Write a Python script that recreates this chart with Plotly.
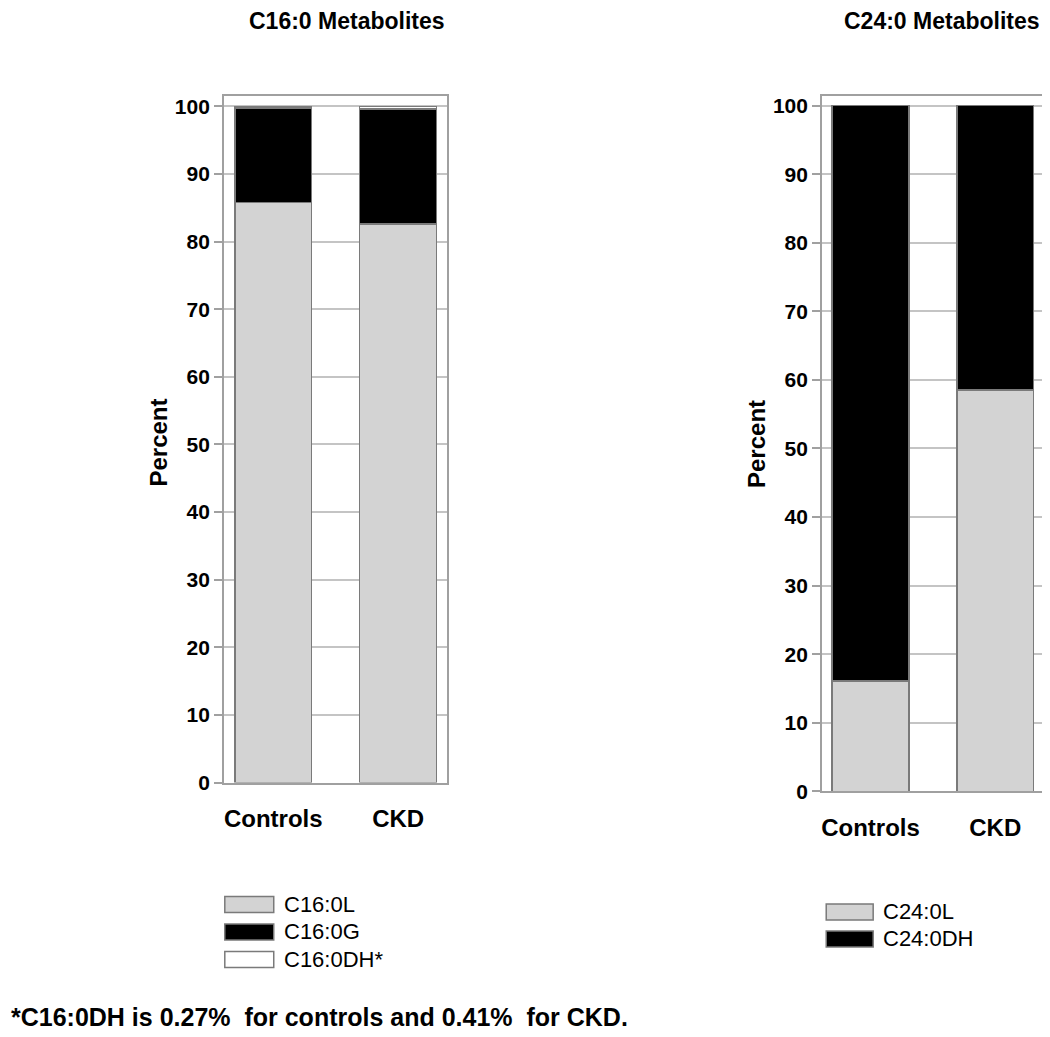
import plotly.graph_objects as go

# ---------------- data ----------------
groups = ["Controls", "CKD"]

c16_names = ["C16:0L", "C16:0G", "C16:0DH*"]
c16_L = [85.8, 82.6]
c16_DH = [0.27, 0.41]
c16_G = [100 - a - b for a, b in zip(c16_L, c16_DH)]

c24_names = ["C24:0L", "C24:0DH"]
c24_L = [16.1, 58.5]
c24_DH = [100 - v for v in c24_L]

y_ticks = list(range(0, 101, 10))

title_left = "C16:0 Metabolites"
title_right = "C24:0 Metabolites"
footnote = "*C16:0DH is 0.27%\u00a0 for controls and 0.41%\u00a0 for CKD."

# ---------------- style ----------------
W, H = 1050, 1037
FONT = "Arial, Liberation Sans, sans-serif"
LIGHT = "#d3d3d3"
BLACK = "#000000"
WHITE = "#ffffff"
EDGE = "#7a7a7a"
FRAME = "#a0a0a0"
GRID = "#c4c4c4"
BAR_W = 0.616

c16_colors = [LIGHT, BLACK, WHITE]
c24_colors = [LIGHT, BLACK]

# page offset compensation (page margin / rendering)
OFF_X, OFF_Y, SCALE_Y = 8.0, 9.5, 0.987


def px_x(v):
    return max(v - OFF_X, 0) / W


def px_y(v):
    return 1 - ((v - OFF_Y) / SCALE_Y) / H


fig = go.Figure()

for name, vals, col in zip(c16_names, [c16_L, c16_G, c16_DH], c16_colors):
    fig.add_trace(go.Bar(x=groups, y=vals, name=name, width=BAR_W,
                         marker=dict(color=col, line=dict(color=EDGE, width=1.5)),
                         xaxis="x", yaxis="y", showlegend=False))

for name, vals, col in zip(c24_names, [c24_L, c24_DH], c24_colors):
    fig.add_trace(go.Bar(x=groups, y=vals, name=name, width=BAR_W,
                         marker=dict(color=col, line=dict(color=EDGE, width=1.5)),
                         xaxis="x2", yaxis="y2", showlegend=False))

xcommon = dict(type="category", showline=True, mirror=True, linecolor=FRAME, linewidth=1.5,
               showgrid=False, ticks="", ticklabelstandoff=14,
               tickfont=dict(family=FONT, size=24, color="black", weight="bold"))
ycommon = dict(showline=True, mirror=True, linecolor=FRAME, linewidth=1.5,
               showgrid=True, gridcolor=GRID, gridwidth=1.5,
               ticks="outside", ticklen=8, tickcolor=FRAME, tickwidth=1.5,
               tickvals=y_ticks, zeroline=False,
               tickfont=dict(family=FONT, size=21, color="black", weight="bold"))

fig.update_layout(
    width=W, height=H,
    margin=dict(l=0, r=0, t=0, b=0),
    paper_bgcolor="white", plot_bgcolor="white",
    barmode="stack", showlegend=False,
    xaxis=dict(domain=[px_x(223), px_x(446)], range=[-0.396, 1.388], anchor="y", **xcommon),
    yaxis=dict(domain=[px_y(781.7), px_y(95.7)], range=[0, 101.5], anchor="x", **ycommon),
    xaxis2=dict(domain=[px_x(821.7), px_x(1042.7)], range=[-0.389, 1.38], anchor="y2", **xcommon),
    yaxis2=dict(domain=[px_y(790.5), px_y(95.7)], range=[0, 101.36], anchor="x2", **ycommon),
)

ann = []
# titles
ann.append(dict(text=title_left, x=px_x(246), y=px_y(20), xref="paper", yref="paper",
                xanchor="left", yanchor="middle", showarrow=False,
                font=dict(family=FONT, size=23, color="black", weight="bold")))
ann.append(dict(text=title_right, x=px_x(842), y=px_y(20), xref="paper", yref="paper",
                xanchor="left", yanchor="middle", showarrow=False,
                font=dict(family=FONT, size=23, color="black", weight="bold")))
# y axis titles
for cx, cy in [(158, 442), (756, 443)]:
    ann.append(dict(text="Percent", x=px_x(cx), y=px_y(cy), xref="paper", yref="paper",
                    xanchor="center", yanchor="middle", textangle=-90, showarrow=False,
                    font=dict(family=FONT, size=24, color="black", weight="bold")))
# footnote
ann.append(dict(text=footnote, x=0, y=px_y(1016), xref="paper", yref="paper",
                xanchor="left", yanchor="middle", showarrow=False,
                font=dict(family=FONT, size=25, color="black", weight="bold")))

shapes = []


def add_legend(x0, y_centers, names, colors, box_w=49, box_h=16, text_x=None):
    for yc, nm, col in zip(y_centers, names, colors):
        shapes.append(dict(type="rect", xref="paper", yref="paper",
                           x0=px_x(x0), x1=px_x(x0 + box_w),
                           y0=px_y(yc + box_h / 2), y1=px_y(yc - box_h / 2),
                           fillcolor=col, line=dict(color=EDGE, width=1.5)))
        ann.append(dict(text=nm, x=px_x(text_x), y=px_y(yc), xref="paper", yref="paper",
                        xanchor="left", yanchor="middle", showarrow=False,
                        font=dict(family=FONT, size=22, color="black")))


add_legend(224, [903.5, 931, 958.5], c16_names, c16_colors, text_x=281)
add_legend(826, [911, 938], c24_names, c24_colors, box_w=47, text_x=881)

fig.update_layout(annotations=ann, shapes=shapes)

fig.write_html("out.html")
